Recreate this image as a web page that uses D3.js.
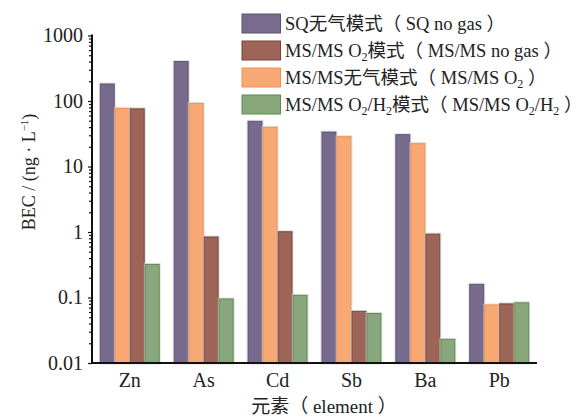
<!DOCTYPE html>
<html>
<head>
<meta charset="utf-8">
<script src="https://cdn.jsdelivr.net/npm/d3@7"></script>
<style>
  html, body { margin: 0; padding: 0; background: #fff; }
  svg { display: block; }
  text { font-family: "Liberation Serif", "Noto Sans CJK SC", serif; fill: #222; }
</style>
</head>
<body>
<svg id="chart" width="582" height="419"></svg>
<script>
// Background equivalent concentration per element and acquisition mode
const elements = ["Zn", "As", "Cd", "Sb", "Ba", "Pb"];
const sqNoGas      = [182, 400, 49, 33.6, 30.6, 0.159];
const msmsNoGas    = [77, 92, 39.7, 28.5, 22.3, 0.077];
const msmsO2       = [76, 0.84, 1.01, 0.0615, 0.93, 0.080];
const msmsO2H2     = [0.32, 0.095, 0.108, 0.057, 0.023, 0.083];
const yTickLabels  = ["0.01", "0.1", "1", "10", "100", "1000"];

// bar order within each group: purple, orange, brown, green
const series = [
  { key: "sq",   values: sqNoGas,   fill: "#786b8d", stroke: "#5d5073" },
  { key: "nog",  values: msmsNoGas, fill: "#f8a872", stroke: "#f0914f" },
  { key: "o2",   values: msmsO2,    fill: "#9c6558", stroke: "#7e3f33" },
  { key: "o2h2", values: msmsO2H2,  fill: "#88a77b", stroke: "#5f8a54" }
];

const svg = d3.select("#chart");
const x0 = 92, x1 = 537, yTop = 35.5, yBot = 363;

const x = d3.scaleBand().domain(elements).range([x0, x1])
  .paddingInner(0.188).paddingOuter(0.105);
const xs = d3.scaleBand().domain(series.map(s => s.key)).range([0, x.bandwidth()]);
const y = d3.scaleLog().domain([0.01, 1000]).range([yBot, yTop]);

// soft halo behind bars
const defs = svg.append("defs");
const f = defs.append("filter").attr("id", "halo").attr("x", "-20%").attr("y", "-5%").attr("width", "140%").attr("height", "110%");
f.append("feMorphology").attr("in", "SourceAlpha").attr("operator", "dilate").attr("radius", 1).attr("result", "d");
f.append("feFlood").attr("flood-color", "#cfcfcf").attr("flood-opacity", 0.6);
f.append("feComposite").attr("in2", "d").attr("operator", "in").attr("result", "h");
const fm = f.append("feMerge");
fm.append("feMergeNode").attr("in", "h");
fm.append("feMergeNode").attr("in", "SourceGraphic");

// bars
const groups = svg.append("g").selectAll("g").data(elements).join("g")
  .attr("transform", d => `translate(${x(d)},0)`);
series.forEach(s => {
  groups.append("rect")
    .attr("x", (d, i) => xs(s.key) + 0.5)
    .attr("width", xs.bandwidth() - 1)
    .attr("y", (d, i) => y(s.values[i]))
    .attr("height", (d, i) => yBot - y(s.values[i]))
    .attr("fill", s.fill)
    .attr("stroke", s.stroke)
    .attr("stroke-width", 1)
    .attr("filter", "url(#halo)");
});

// y axis with minor ticks on the log scale
const majors = yTickLabels.map(Number);
const minors = [];
majors.slice(0, -1).forEach(m => { for (let k = 2; k <= 9; k++) minors.push(m * k); });
const yAxisMinor = d3.axisLeft(y).tickValues(minors).tickSize(3).tickFormat("");
const yAxisMajor = d3.axisLeft(y).tickValues(majors).tickSize(4).tickPadding(5)
  .tickFormat((d, i) => yTickLabels[i]);

const gyMinor = svg.append("g").attr("transform", `translate(${x0},0)`).call(yAxisMinor);
const gy = svg.append("g").attr("transform", `translate(${x0},0)`).call(yAxisMajor);
[gyMinor, gy].forEach(g => {
  g.select(".domain").remove();
  g.selectAll(".tick line").attr("stroke", "#111").attr("stroke-width", 1.2);
});
gy.selectAll(".tick text").attr("font-size", 20).attr("fill", "#222")
  .style("font-family", '"Liberation Serif", serif');

// x axis
const gx = svg.append("g").attr("transform", `translate(0,${yBot})`)
  .call(d3.axisBottom(x).tickSize(0).tickPadding(10));
gx.select(".domain").remove();
gx.selectAll(".tick text").attr("font-size", 20).attr("fill", "#222").attr("dy", "0.71em")
  .style("font-family", '"Liberation Serif", serif');

// axis lines
svg.append("line").attr("x1", x0).attr("x2", x0).attr("y1", yTop - 1).attr("y2", yBot + 1)
  .attr("stroke", "#111").attr("stroke-width", 2);
svg.append("line").attr("x1", x0 - 1).attr("x2", x1).attr("y1", yBot).attr("y2", yBot)
  .attr("stroke", "#111").attr("stroke-width", 2);

// axis titles
svg.append("text").attr("x", 324).attr("y", 413).attr("text-anchor", "middle")
  .attr("font-size", 19).text("元素（ element ）");

const yt = svg.append("text").attr("transform", "translate(35,172) rotate(-90)")
  .attr("text-anchor", "middle").attr("font-size", 18);
yt.append("tspan").text("BEC / (ng · L");
yt.append("tspan").attr("font-size", 11).attr("dy", -7).text("−1");
yt.append("tspan").attr("dy", 7).text(")");

// legend
const legend = [
  { fill: series[0].fill, stroke: series[0].stroke, parts: [["SQ无气模式（ SQ no gas ）"]] },
  { fill: series[2].fill, stroke: series[2].stroke, parts: [["MS/MS O"], ["2", "sub"], ["模式（ MS/MS no gas ）"]] },
  { fill: series[1].fill, stroke: series[1].stroke, parts: [["MS/MS无气模式（ MS/MS O"], ["2", "sub"], [" ）"]] },
  { fill: series[3].fill, stroke: series[3].stroke, parts: [["MS/MS O"], ["2", "sub"], ["/H"], ["2", "sub"], ["模式（ MS/MS O"], ["2", "sub"], ["/H"], ["2", "sub"], [" ）"]] }
];
const lg = svg.append("g").attr("transform", "translate(242,14)");
legend.forEach((item, i) => {
  const row = lg.append("g").attr("transform", `translate(0,${i * 27})`);
  row.append("rect").attr("width", 38.5).attr("height", 19)
    .attr("fill", item.fill).attr("stroke", item.stroke).attr("stroke-width", 1);
  const t = row.append("text").attr("x", 43).attr("y", 16).attr("font-size", 18.5);
  let prevSub = false;
  item.parts.forEach(p => {
    const isSub = p[1] === "sub";
    const sp = t.append("tspan").text(p[0]);
    if (isSub) sp.attr("font-size", 12).attr("dy", 4);
    else if (prevSub) sp.attr("dy", -4);
    prevSub = isSub;
  });
});
</script>
</body>
</html>
